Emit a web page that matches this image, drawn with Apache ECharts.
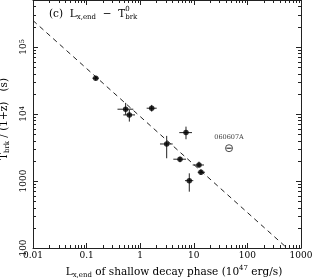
<!DOCTYPE html>
<html><head><meta charset="utf-8">
<script src="https://cdn.jsdelivr.net/npm/echarts@6/dist/echarts.min.js"></script>
<style>html,body{margin:0;padding:0;background:#fff}#c{width:312px;height:278px}</style>
</head><body><div id="c"></div>
<script>
// ---- data ----
const xTickValues = [0.01, 0.1, 1, 10, 100, 1000];
const xTickLabels = ['0.01', '0.1', '1', '10', '100', '1000'];
const yTickValues = [100, 1000, 10000, 100000];
const yTickLabels = ['100', '1000', '10{sup|4}', '10{sup|5}'];

const lxEnd   = [0.148, 0.535, 0.627, 1.64, 7.15, 3.12, 5.53, 12.5, 13.6, 8.24];
const lxLow   = [0.128, 0.377, 0.484, 1.32, 5.36, 2.34, 4.15, 9.54, 11.8, 6.85];
const lxHigh  = [0.170, 0.743, 0.800, 2.03, 9.25, 4.04, 7.15, 15.5, 16.2, 9.79];
const tBrk    = [34100, 11750, 9660, 12160, 5260, 3560, 2110, 1730, 1349, 1010];
const tLow    = [31600, 9660, 7680, 10820, 4190, 2180, 1900, 1600, 1230, 692];
const tHigh   = [36900, 14600, 11480, 13630, 6460, 4700, 2300, 1940, 1495, 1300];

const outName = ['060607A'];
const outLx   = [45.4];
const outLxLow = [40.5];
const outLxHigh = [51.0];
const outT    = [3080];
const outTLow = [3050];
const outTHigh = [3110];

const fitLx = [0.01, 548];
const fitT  = [247000, 100];

const xMin = 0.01, xMax = 1000, yMin = 100, yMax = 500000;
const FONT = 'DejaVu Serif';
const INK = '#222';

// minor tick positions (axis decoration)
const xMinor = [], yMinor = [];
for (let d = xMin; d < xMax; d *= 10) for (let k = 2; k <= 9; k++) xMinor.push([+(d * k).toPrecision(6), yMin]);
for (let d = yMin; d < yMax; d *= 10) for (let k = 2; k <= 9; k++) { const v = d * k; if (v < yMax) yMinor.push([xMin, v]); }

const mainPts = lxEnd.map((x, i) => [x, tBrk[i]]);
const mainErr = lxEnd.map((x, i) => [x, tBrk[i], lxLow[i], lxHigh[i], tLow[i], tHigh[i]]);
const outPts = outLx.map((x, i) => ({ value: [x, outT[i]], name: outName[i] }));
const outErr = outLx.map((x, i) => [x, outT[i], outLxLow[i], outLxHigh[i], outTLow[i], outTHigh[i]]);

function lbl(list, vals) {
  return function (v) {
    for (let i = 0; i < vals.length; i++) if (Math.abs(Math.log10(v) - Math.log10(vals[i])) < 1e-6) return list[i];
    return '';
  };
}

function errRender(params, api) {
  const c = api.coord([api.value(0), api.value(1)]);
  const xl = api.coord([api.value(2), api.value(1)]);
  const xh = api.coord([api.value(3), api.value(1)]);
  const yl = api.coord([api.value(0), api.value(4)]);
  const yh = api.coord([api.value(0), api.value(5)]);
  const st = { stroke: INK, lineWidth: 1 };
  return { type: 'group', children: [
    { type: 'line', shape: { x1: xl[0], y1: c[1], x2: xh[0], y2: c[1] }, style: st },
    { type: 'line', shape: { x1: c[0], y1: yl[1], x2: c[0], y2: yh[1] }, style: st }
  ]};
}
const ML = 3;
function xMinorRender(params, api) {
  const b = api.coord([api.value(0), yMin]);
  const t = api.coord([api.value(0), yMax]);
  const x = Math.round(b[0]) + 0.5;
  const st = { stroke: INK, lineWidth: 1 };
  return { type: 'group', children: [
    { type: 'line', shape: { x1: x, y1: b[1], x2: x, y2: b[1] - ML }, style: st },
    { type: 'line', shape: { x1: x, y1: t[1], x2: x, y2: t[1] + ML }, style: st }
  ]};
}
function yMinorRender(params, api) {
  const l = api.coord([xMin, api.value(1)]);
  const r = api.coord([xMax, api.value(1)]);
  const y = Math.round(l[1]) + 0.5;
  const st = { stroke: INK, lineWidth: 1 };
  return { type: 'group', children: [
    { type: 'line', shape: { x1: l[0], y1: y, x2: l[0] + ML, y2: y }, style: st },
    { type: 'line', shape: { x1: r[0], y1: y, x2: r[0] - ML, y2: y }, style: st }
  ]};
}

// panel annotation laid out with measured widths
const mctx = document.createElement('canvas').getContext('2d');
function tw(s, size) { mctx.font = size + 'px "' + FONT + '"'; return mctx.measureText(s).width; }
const annoPieces = [
  { t: '(c)  L', s: 10.5, dy: 0 },
  { t: 'x,end', s: 7, dy: 3 },
  { t: '  \u2212  T', s: 10.5, dy: 0 },
  { t: '0', s: 7, dy: -5, stack: true },
  { t: 'brk', s: 7, dy: 3 }
];
const annoEls = [];
(function () {
  let x = 49; const y = 15;
  annoPieces.forEach(p => {
    annoEls.push({ type: 'text', left: x, top: y + p.dy - p.s / 2 - 1, style: { text: p.t, font: p.s + 'px "' + FONT + '"', fill: '#000' }, z: 10 });
    if (!p.stack) x += tw(p.t, p.s);
  });
})();

const axisLineStyle = { color: INK, width: 1 };
const chart = echarts.init(document.getElementById('c'), null, { renderer: 'canvas' });
chart.setOption({
  animation: false,
  backgroundColor: '#fff',
  grid: { left: 33, right: 11, top: 0, bottom: 30, containLabel: false, outerBoundsMode: 'none' },
  xAxis: [{
    type: 'log', logBase: 10, min: xMin, max: xMax, position: 'bottom',
    axisLine: { lineStyle: axisLineStyle }, splitLine: { show: false },
    axisTick: { inside: true, length: 5, lineStyle: axisLineStyle },
    axisLabel: { formatter: lbl(xTickLabels, xTickValues), color: '#000', fontFamily: FONT, fontSize: 9, margin: 3, showMinLabel: true, showMaxLabel: true },
    name: 'L{sub|x,end} of shallow decay phase (10{sup|47} erg/s)',
    nameLocation: 'middle', nameGap: 6,
    nameTextStyle: { color: '#000', fontFamily: FONT, fontSize: 10.5, lineHeight: 14, padding: [0, 0, 0, 14],
      rich: { sub: { fontFamily: FONT, fontSize: 7, verticalAlign: 'bottom', lineHeight: 9 },
              sup: { fontFamily: FONT, fontSize: 7, verticalAlign: 'top', lineHeight: 7 } } }
  }, {
    type: 'log', logBase: 10, min: xMin, max: xMax, position: 'top',
    axisLine: { lineStyle: axisLineStyle }, splitLine: { show: false },
    axisTick: { inside: true, length: 5, lineStyle: axisLineStyle },
    axisLabel: { show: false }
  }],
  yAxis: [{
    type: 'log', logBase: 10, min: yMin, max: yMax, position: 'left',
    axisLine: { lineStyle: axisLineStyle }, splitLine: { show: false },
    axisTick: { inside: true, length: 5, lineStyle: axisLineStyle },
    axisLabel: { formatter: lbl(yTickLabels, yTickValues), rotate: 90, color: '#000', fontFamily: FONT, fontSize: 9, margin: 5,
      showMinLabel: true, showMaxLabel: false,
      rich: { sup: { fontFamily: FONT, fontSize: 6.5, verticalAlign: 'top', lineHeight: 6 } } },
    name: 'T{sub|brk} / (1+z)   (s)',
    nameLocation: 'middle', nameRotate: 90, nameGap: 12,
    nameTextStyle: { color: '#000', fontFamily: FONT, fontSize: 10.5, lineHeight: 14, padding: [0, 0, 0, 10],
      rich: { sub: { fontFamily: FONT, fontSize: 7, verticalAlign: 'bottom', lineHeight: 9 } } }
  }, {
    type: 'log', logBase: 10, min: yMin, max: yMax, position: 'right',
    axisLine: { lineStyle: axisLineStyle }, splitLine: { show: false },
    axisTick: { inside: true, length: 5, lineStyle: axisLineStyle },
    axisLabel: { show: false }
  }],
  graphic: annoEls,
  series: [
    { type: 'custom', name: 'xminor', data: xMinor, renderItem: xMinorRender, clip: false, silent: true, encode: { x: 0, y: 1 } },
    { type: 'custom', name: 'yminor', data: yMinor, renderItem: yMinorRender, clip: false, silent: true, encode: { x: 0, y: 1 } },
    { type: 'line', name: 'fit', data: fitLx.map((x, i) => [x, fitT[i]]), symbol: 'none', silent: true,
      lineStyle: { color: INK, width: 1, type: [5, 4] }, z: 1 },
    { type: 'custom', name: 'err', data: mainErr, renderItem: errRender, encode: { x: 0, y: 1 }, z: 2 },
    { type: 'scatter', name: 'pts', data: mainPts, symbol: 'circle', symbolSize: 5.5,
      itemStyle: { color: '#000' }, z: 3 },
    { type: 'scatter', name: 'out', data: outPts, symbol: 'circle', symbolSize: 7,
      itemStyle: { color: '#fff', borderColor: INK, borderWidth: 1 }, z: 3,
      label: { show: true, position: 'top', distance: 3, formatter: '{b}', color: '#000', fontFamily: FONT, fontSize: 6.5 } },
    { type: 'custom', name: 'outerr', data: outErr, renderItem: errRender, encode: { x: 0, y: 1 }, z: 4 }
  ]
});
</script>
</body></html>
